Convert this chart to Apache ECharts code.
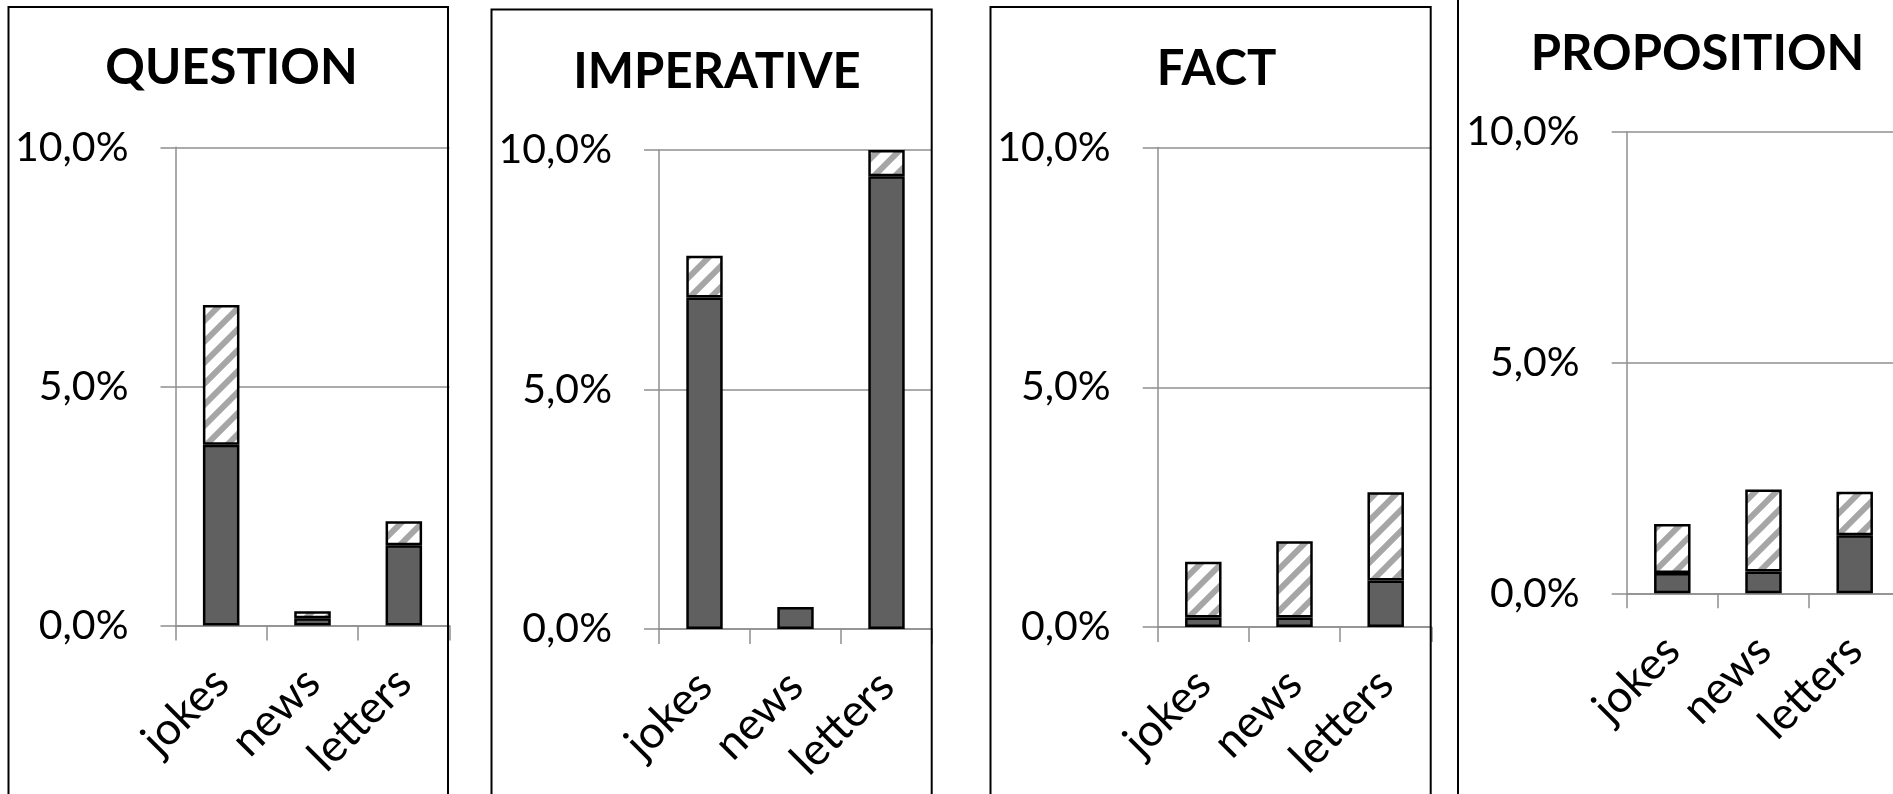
<!DOCTYPE html>
<html>
<head>
<meta charset="utf-8">
<title>Sentence types by text genre</title>
<script src="https://cdn.jsdelivr.net/npm/echarts@6/dist/echarts.min.js"></script>
<style>
  html, body { margin: 0; padding: 0; background: #ffffff; }
  #chart { width: 1893px; height: 794px; }
</style>
</head>
<body>
<div id="chart"></div>
<script>
// Genres on every category axis
const categories = ['jokes', 'news', 'letters'];

// Panel titles
const panelTitles = ['QUESTION', 'IMPERATIVE', 'FACT', 'PROPOSITION'];

// Lower (solid) segment of each stacked bar, in percent
const questionSolid    = [3.78, 0.15, 1.68];
const imperativeSolid  = [6.92, 0.46, 9.45];
const factSolid        = [0.20, 0.20, 0.97];
const propositionSolid = [0.44, 0.47, 1.26];

// Upper (hatched) segment of each stacked bar, in percent
const questionHatched    = [2.92, 0.15, 0.50];
const imperativeHatched  = [0.87, null, 0.55];
const factHatched        = [1.16, 1.59, 1.84];
const propositionHatched = [1.06, 1.78, 0.94];

// Value-axis ticks
const yTicks = [0, 5, 10];

const solidSets   = [questionSolid, imperativeSolid, factSolid, propositionSolid];
const hatchedSets = [questionHatched, imperativeHatched, factHatched, propositionHatched];

// Diagonal hatch fill for the upper segments
function makeHatch() {
  const t = 21;
  const c = document.createElement('canvas');
  c.width = t; c.height = t;
  const g = c.getContext('2d');
  g.fillStyle = '#ffffff';
  g.fillRect(0, 0, t, t);
  g.strokeStyle = '#a6a6a6';
  g.lineWidth = 6;
  g.lineCap = 'square';
  [-t, 0, t].forEach(function (o) {
    g.beginPath();
    g.moveTo(o, t);
    g.lineTo(o + t, 0);
    g.stroke();
  });
  return c;
}
const hatch = { image: makeHatch(), repeat: 'repeat' };

// Layout of the four framed panels (plot box and frame)
const panels = [
  { grid: { left: 175.5, top: 147.3, width: 274, height: 478.2 }, title: { x: 226.5, y: 39 },
    frame: { x: 8.5, y: 7, w: 439.5 } },
  { grid: { left: 659, top: 150, width: 273, height: 479 }, title: { x: 712, y: 43 },
    frame: { x: 491.5, y: 9.5, w: 440.2 } },
  { grid: { left: 1157.7, top: 147.5, width: 273.6, height: 479.5 }, title: { x: 1211.5, y: 40 },
    frame: { x: 990.5, y: 7, w: 440.2 } },
  { grid: { left: 1626.7, top: 131.7, width: 273.6, height: 461.6 }, title: { x: 1692.5, y: 25 },
    frame: { x: 1458, y: -10, w: 600 } }
];

const gray = '#8f8f8f';
const fontFamily = 'Lato, "Open Sans", sans-serif';

const grids = [], xAxes = [], yAxes = [], series = [], titles = [], frames = [];

panels.forEach(function (p, i) {
  // keep the plot box fixed even though rotated labels run past the page edge
  grids.push(Object.assign({ containLabel: false, outerBoundsMode: 'none' }, p.grid));

  titles.push({
    text: panelTitles[i],
    left: p.title.x,
    top: p.title.y,
    textAlign: 'center',
    textStyle: { fontFamily: fontFamily, fontWeight: 'bold', fontSize: 49, color: '#000' }
  });

  xAxes.push({
    type: 'category',
    gridIndex: i,
    data: categories,
    boundaryGap: true,
    axisLine: { show: true, lineStyle: { color: gray, width: 1.5 } },
    axisTick: { show: true, length: 15, lineStyle: { color: gray, width: 1.5 } },
    axisLabel: {
      rotate: 45, margin: 50, interval: 0,
      fontFamily: fontFamily, fontSize: 45, color: '#000'
    },
    splitLine: { show: false }
  });

  yAxes.push({
    type: 'value',
    gridIndex: i,
    min: yTicks[0],
    max: yTicks[yTicks.length - 1],
    interval: yTicks[1] - yTicks[0],
    axisLine: { show: true, lineStyle: { color: gray, width: 1.5 } },
    axisTick: { show: true, length: 15, lineStyle: { color: gray, width: 1.5 } },
    axisLabel: {
      margin: 47,
      fontFamily: fontFamily, fontSize: 41, color: '#000',
      formatter: function (v) { return v.toFixed(1).replace('.', ',') + '%'; }
    },
    splitLine: { show: true, lineStyle: { color: gray, width: 1.5 } }
  });

  series.push({
    type: 'bar',
    xAxisIndex: i, yAxisIndex: i,
    stack: 'share' + i,
    barWidth: '40%',
    data: solidSets[i],
    itemStyle: { color: '#606060', borderColor: '#000', borderWidth: 2.5 }
  });
  series.push({
    type: 'bar',
    xAxisIndex: i, yAxisIndex: i,
    stack: 'share' + i,
    barWidth: '40%',
    data: hatchedSets[i],
    itemStyle: { color: hatch, borderColor: '#000', borderWidth: 2.5 }
  });

  frames.push({
    type: 'rect',
    silent: true,
    shape: { x: p.frame.x, y: p.frame.y, width: p.frame.w, height: 900 },
    style: { fill: 'none', stroke: '#000', lineWidth: 2 },
    z: 100
  });
});

const chart = echarts.init(document.getElementById('chart'), null, { renderer: 'canvas' });
chart.setOption({
  animation: false,
  backgroundColor: '#ffffff',
  title: titles,
  grid: grids,
  xAxis: xAxes,
  yAxis: yAxes,
  series: series,
  graphic: frames
});
</script>
</body>
</html>
